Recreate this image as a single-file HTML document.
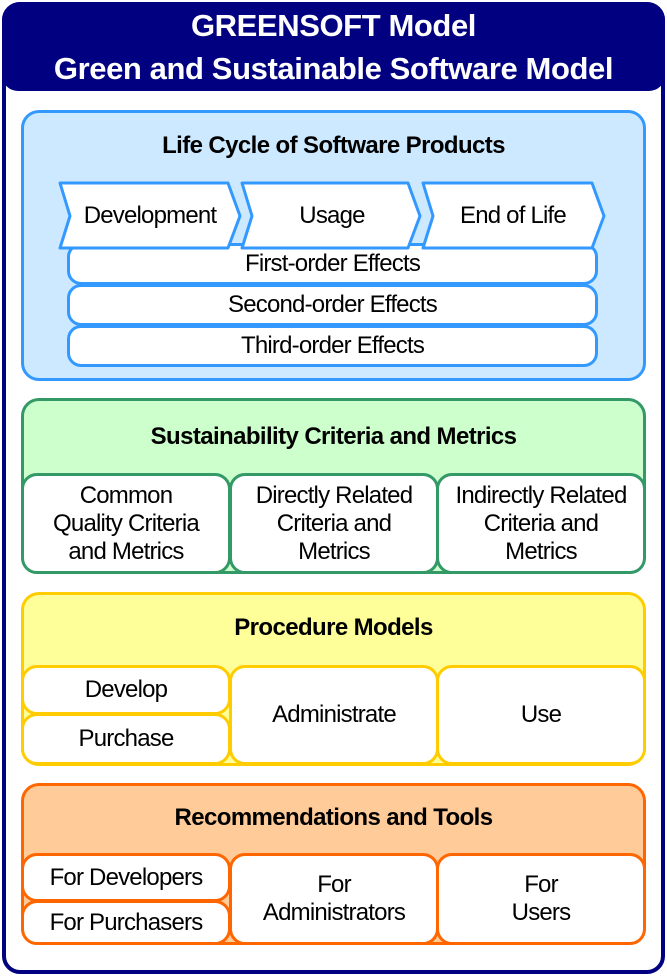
<!DOCTYPE html>
<html><head><style>
body{margin:0;width:667px;height:976px;background:#fff;font-family:"Liberation Sans",Arial,sans-serif;position:relative;overflow:hidden}
.a{position:absolute;box-sizing:border-box}
.t{position:absolute;left:0;right:0;text-align:center;color:#000;letter-spacing:-0.6px}
.b{font-weight:bold;font-size:24px;line-height:28px}
.box{position:absolute;box-sizing:border-box;background:#fff;border-radius:16px;border:3px solid;display:flex;align-items:center;justify-content:center;text-align:center;font-size:24px;line-height:28px;letter-spacing:-0.8px}
</style></head><body>
<div class="a" style="left:2px;top:2px;width:663px;height:972px;border:4px solid #000080;border-radius:18px;background:#fff"></div>
<div class="a" style="left:2px;top:2px;width:663px;height:89px;background:#000080;border-radius:18px 18px 16px 16px"></div>
<div class="t" style="top:4px;color:#fff;font-weight:bold;font-size:31px;line-height:43px;letter-spacing:-0.4px">GREENSOFT Model<br>Green and Sustainable Software Model</div>

<!-- Blue -->
<div class="a" style="left:21px;top:110px;width:625px;height:271px;border:3px solid #3399ff;border-radius:18px;background:#cce9ff"></div>
<div class="t b" style="top:132px">Life Cycle of Software Products</div>
<div class="box" style="left:67px;top:243px;width:531px;height:42px;border-color:#3399ff;border-radius:14px">First-order Effects</div>
<div class="box" style="left:67px;top:284px;width:531px;height:42px;border-color:#3399ff;border-radius:14px">Second-order Effects</div>
<div class="box" style="left:67px;top:325px;width:531px;height:42px;border-color:#3399ff;border-radius:14px">Third-order Effects</div>
<svg class="a" style="left:0;top:0" width="667" height="300">
<g fill="#fff" stroke="#3399ff" stroke-width="3" stroke-linejoin="round">
<polygon points="60,183 228,183 240,216 228,248 60,248 70,216"/>
<polygon points="242,183 408,183 420,216 408,248 242,248 252,216"/>
<polygon points="423,183 592,183 604,216 592,248 423,248 433,216"/>
</g>
<g font-family="Liberation Sans, Arial, sans-serif" font-size="24" text-anchor="middle" letter-spacing="-0.8">
<text x="150" y="223">Development</text>
<text x="332" y="223">Usage</text>
<text x="513" y="223">End of Life</text>
</g>
</svg>

<!-- Green -->
<div class="a" style="left:21px;top:398px;width:625px;height:176px;border:3px solid #339966;border-radius:18px;background:#ccffcc"></div>
<div class="t b" style="top:423px">Sustainability Criteria and Metrics</div>
<div class="box" style="left:21px;top:473px;width:210px;height:101px;border-color:#339966">Common<br>Quality Criteria<br>and Metrics</div>
<div class="box" style="left:229px;top:473px;width:210px;height:101px;border-color:#339966">Directly Related<br>Criteria and<br>Metrics</div>
<div class="box" style="left:436px;top:473px;width:210px;height:101px;border-color:#339966">Indirectly Related<br>Criteria and<br>Metrics</div>

<!-- Yellow -->
<div class="a" style="left:21px;top:592px;width:625px;height:174px;border:3px solid #ffcc00;border-radius:18px;background:#ffff99"></div>
<div class="t b" style="top:614px">Procedure Models</div>
<div class="box" style="left:21px;top:665px;width:210px;height:50px;border-color:#ffcc00">Develop</div>
<div class="box" style="left:21px;top:713px;width:210px;height:52px;border-color:#ffcc00">Purchase</div>
<div class="box" style="left:229px;top:665px;width:210px;height:100px;border-color:#ffcc00">Administrate</div>
<div class="box" style="left:436px;top:665px;width:210px;height:100px;border-color:#ffcc00">Use</div>

<!-- Orange -->
<div class="a" style="left:21px;top:783px;width:625px;height:162px;border:3px solid #ff6600;border-radius:18px;background:#ffcc99"></div>
<div class="t b" style="top:804px">Recommendations and Tools</div>
<div class="box" style="left:21px;top:853px;width:210px;height:49px;border-color:#ff6600">For Developers</div>
<div class="box" style="left:21px;top:900px;width:210px;height:45px;border-color:#ff6600">For Purchasers</div>
<div class="box" style="left:229px;top:853px;width:210px;height:92px;border-color:#ff6600">For<br>Administrators</div>
<div class="box" style="left:436px;top:853px;width:210px;height:92px;border-color:#ff6600">For<br>Users</div>
</body></html>
